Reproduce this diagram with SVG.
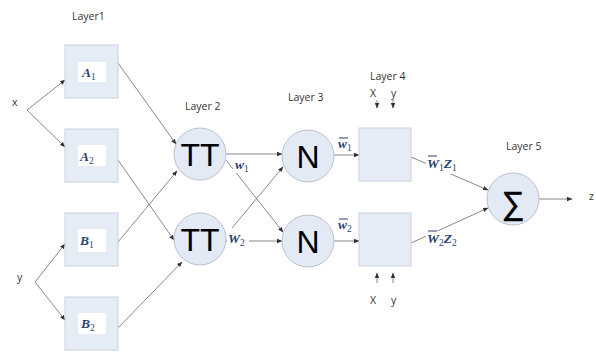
<svg xmlns="http://www.w3.org/2000/svg" width="596" height="352" viewBox="0 0 596 352">
<style>
.box{fill:#e6ecf5;stroke:#c9d1dd;stroke-width:1}
.circ{fill:#e4eaf5;stroke:#b9c1cd;stroke-width:1}
.lab{fill:#ffffff;stroke:none}
.ln{stroke:#6a6a6a;stroke-width:0.8;fill:none;marker-end:url(#ah)}
.t{font-family:"Open Sans","Liberation Sans",sans-serif;font-size:10.5px;fill:#333}
.m{font-family:"Liberation Serif",serif;font-style:italic;font-weight:bold;font-size:13.5px;fill:#2b3f6e}
.s{font-style:normal;font-weight:normal;font-size:9.5px}
.big{font-family:"Liberation Sans",Arial,sans-serif;font-size:32px;fill:#000}
</style>
<defs>
<marker id="ah" markerWidth="6" markerHeight="6" refX="5" refY="3" orient="auto" markerUnits="userSpaceOnUse">
<path d="M0,0.8 L5.5,3 L0,5.2 z" fill="#333"/>
</marker>
</defs>
<g id="labels">
<text class="t" x="72" y="20">Layer1</text>
<text class="t" x="185" y="110">Layer 2</text>
<text class="t" x="288" y="101">Layer 3</text>
<text class="t" x="370" y="80">Layer 4</text>
<text class="t" x="506" y="150">Layer 5</text>
<text class="t" x="12" y="106">x</text>
<text class="t" x="17" y="281">y</text>
<text class="t" x="370" y="97">X</text>
<text class="t" x="391" y="97">y</text>
<text class="t" x="370" y="304">X</text>
<text class="t" x="391" y="304">y</text>
<text class="t" x="589" y="200">z</text>
</g>
<g id="connectors">
<path class="ln" d="M27,110 L65,80"/>
<path class="ln" d="M27,110 L65,147"/>
<path class="ln" d="M35,282 L65,244"/>
<path class="ln" d="M35,282 L65,320"/>
<path class="ln" d="M118,63 L176,144"/>
<path class="ln" d="M118,160 L174,240"/>
<path class="ln" d="M118,242 L177,171"/>
<path class="ln" d="M118,328 L182,262"/>
<path class="ln" d="M226,154 L282,154"/>
<path class="ln" d="M226,160 L283,232"/>
<path class="ln" d="M232,228 L283,167"/>
<path class="ln" d="M226,241 L282,241"/>
<path class="ln" d="M334,155 L359,155"/>
<path class="ln" d="M334,241 L359,241"/>
<path class="ln" d="M411,157 L488,190"/>
<path class="ln" d="M411,243 L488,208"/>
<path class="ln" d="M539,199 L572,199"/>
<path class="ln" d="M377,100 L377,108"/>
<path class="ln" d="M393,100 L393,108"/>
<path class="ln" d="M377,283 L377,273"/>
<path class="ln" d="M393,283 L393,273"/>
</g>
<g id="A1"><rect class="box" x="65" y="45" width="53" height="53"/><rect class="lab" x="78" y="62" width="28" height="20"/><text class="m" x="82" y="77" font-size="11.5">A<tspan class="s" dy="3">1</tspan></text></g>
<g id="A2"><rect class="box" x="65" y="129" width="53" height="53"/><rect class="lab" x="78" y="145" width="28" height="21"/><text class="m" x="80" y="161">A<tspan class="s" dy="3">2</tspan></text></g>
<g id="B1"><rect class="box" x="65" y="213" width="53" height="53"/><rect class="lab" x="78" y="229" width="28" height="23"/><text class="m" x="80" y="245">B<tspan class="s" dy="3">1</tspan></text></g>
<g id="B2"><rect class="box" x="65" y="297" width="53" height="53"/><rect class="lab" x="78" y="313" width="28" height="21"/><text class="m" x="81" y="328">B<tspan class="s" dy="3">2</tspan></text></g>
<g id="TT1"><circle class="circ" cx="200" cy="154" r="26"/><text class="big" x="200" y="166" text-anchor="middle">TT</text></g>
<g id="TT2"><circle class="circ" cx="200" cy="239" r="26"/><text class="big" x="200" y="251" text-anchor="middle">TT</text></g>
<g id="w1"><rect class="lab" x="233" y="158" width="22" height="15"/><text class="m" x="235" y="169">w<tspan class="s" dy="3">1</tspan></text></g>
<g id="w2"><rect class="lab" x="227" y="232" width="22" height="16"/><text class="m" x="228" y="243">W<tspan class="s" dy="3">2</tspan></text></g>
<g id="N1"><circle class="circ" cx="308" cy="156" r="26"/><text class="big" x="308" y="168" text-anchor="middle" font-size="35">N</text></g>
<g id="N2"><circle class="circ" cx="308" cy="241" r="26"/><text class="big" x="308" y="253" text-anchor="middle" font-size="35">N</text></g>
<g id="wb1"><text class="m" x="338" y="148">w<tspan class="s" dy="3">1</tspan></text><path d="M339,138 L348,138" stroke="#2b3f6e" stroke-width="1"/></g>
<g id="wb2"><text class="m" x="338" y="229">w<tspan class="s" dy="3">2</tspan></text><path d="M339,219 L348,219" stroke="#2b3f6e" stroke-width="1"/></g>
<g id="L4a"><rect class="box" x="359" y="128" width="52" height="53"/></g>
<g id="L4b"><rect class="box" x="359" y="213" width="52" height="53"/></g>
<g id="wz1"><rect class="lab" x="426" y="156" width="44" height="18"/><text class="m" x="427" y="168">W<tspan class="s" dy="3">1</tspan><tspan dy="-3">Z</tspan><tspan class="s" dy="3">1</tspan></text><path d="M428,156 L437,156" stroke="#2b3f6e" stroke-width="1"/></g>
<g id="wz2"><rect class="lab" x="426" y="231" width="44" height="18"/><text class="m" x="427" y="243">W<tspan class="s" dy="3">2</tspan><tspan dy="-3">Z</tspan><tspan class="s" dy="3">2</tspan></text><path d="M428,231 L437,231" stroke="#2b3f6e" stroke-width="1"/></g>
<g id="Sigma"><circle class="circ" cx="513" cy="199" r="26"/><text class="big" x="513" y="214" text-anchor="middle" font-size="46" stroke="#000" stroke-width="0.6">∑</text></g>
</svg>
